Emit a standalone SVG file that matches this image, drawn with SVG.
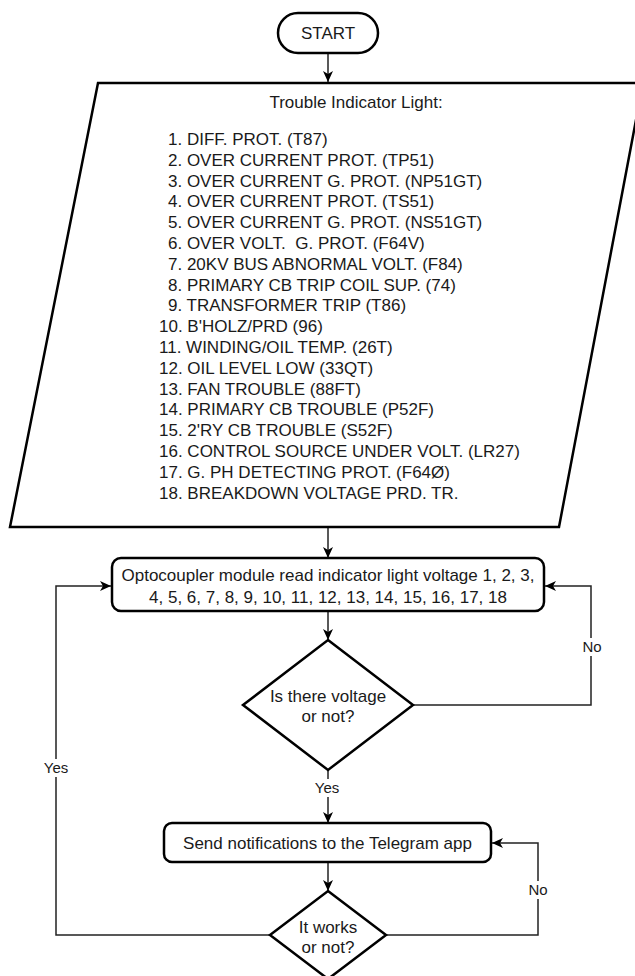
<svg xmlns="http://www.w3.org/2000/svg" width="635" height="976" viewBox="0 0 635 976">
<defs>
<marker id="arr" viewBox="0 0 12 10" refX="11" refY="5" markerWidth="12" markerHeight="10" markerUnits="userSpaceOnUse" orient="auto">
<path d="M0,0 L11,5 L0,10 L3,5 Z" fill="#000"/>
</marker>
<style>
.n{fill:#fff;stroke:#000;stroke-width:2.5;}
.t{font-family:"Liberation Sans",Arial,sans-serif;font-size:17px;fill:#1a1a1a;white-space:pre;}
.c{text-anchor:middle;}
.lbl{font-family:"Liberation Sans",Arial,sans-serif;font-size:15px;fill:#1a1a1a;text-anchor:middle;}
.e{fill:none;stroke:#222;stroke-width:1.5;}
</style>
</defs>
<rect width="635" height="976" fill="#fff"/>
<g id="connectors">
<path class="e" d="M328,53 V82" marker-end="url(#arr)"/>
<path class="e" d="M328,527 V558" marker-end="url(#arr)"/>
<path class="e" d="M328,611 V640" marker-end="url(#arr)"/>
<path class="e" d="M413,705 H591 V586 H545" marker-end="url(#arr)"/>
<path class="e" d="M328,770 V823" marker-end="url(#arr)"/>
<path class="e" d="M328,862 V891" marker-end="url(#arr)"/>
<path class="e" d="M386,935 H538 V843 H492" marker-end="url(#arr)"/>
<path class="e" d="M270,935 H56 V586 H111" marker-end="url(#arr)"/>
<rect x="580" y="638" width="24" height="18" fill="#fff"/>
<text class="lbl" x="592" y="652">No</text>
<rect x="313" y="779" width="29" height="18" fill="#fff"/>
<text class="lbl" x="327" y="793">Yes</text>
<rect x="42" y="759" width="29" height="18" fill="#fff"/>
<text class="lbl" x="56" y="773">Yes</text>
<rect x="526" y="881" width="24" height="18" fill="#fff"/>
<text class="lbl" x="538" y="895">No</text>
</g>
<g id="start">
<rect class="n" x="278" y="13" width="100" height="40" rx="20" ry="20"/>
<text class="t c" x="328" y="39">START</text>
</g>
<g id="indicator-list">
<polygon class="n" points="98,83 643,83 559,527 10,527"/>
<text class="t c" x="356" y="108">Trouble Indicator Light:</text>
<text class="t" x="168" y="145">1. DIFF. PROT. (T87)</text>
<text class="t" x="168" y="165.8">2. OVER CURRENT PROT. (TP51)</text>
<text class="t" x="168" y="186.6">3. OVER CURRENT G. PROT. (NP51GT)</text>
<text class="t" x="168" y="207.4">4. OVER CURRENT PROT. (TS51)</text>
<text class="t" x="168" y="228.2">5. OVER CURRENT G. PROT. (NS51GT)</text>
<text class="t" x="168" y="249">6. OVER VOLT.  G. PROT. (F64V)</text>
<text class="t" x="168" y="269.8">7. 20KV BUS ABNORMAL VOLT. (F84)</text>
<text class="t" x="168" y="290.6">8. PRIMARY CB TRIP COIL SUP. (74)</text>
<text class="t" x="168" y="311.4">9. TRANSFORMER TRIP (T86)</text>
<text class="t" x="159" y="332.2">10. B'HOLZ/PRD (96)</text>
<text class="t" x="159" y="353">11. WINDING/OIL TEMP. (26T)</text>
<text class="t" x="159" y="373.8">12. OIL LEVEL LOW (33QT)</text>
<text class="t" x="159" y="394.6">13. FAN TROUBLE (88FT)</text>
<text class="t" x="159" y="415.4">14. PRIMARY CB TROUBLE (P52F)</text>
<text class="t" x="159" y="436.2">15. 2'RY CB TROUBLE (S52F)</text>
<text class="t" x="159" y="457">16. CONTROL SOURCE UNDER VOLT. (LR27)</text>
<text class="t" x="159" y="477.8">17. G. PH DETECTING PROT. (F64Ø)</text>
<text class="t" x="159" y="498.6">18. BREAKDOWN VOLTAGE PRD. TR.</text>
</g>
<g id="read-voltage">
<rect class="n" x="112" y="558" width="432" height="53" rx="9" ry="9"/>
<text class="t c" x="328" y="581">Optocoupler module read indicator light voltage 1, 2, 3,</text>
<text class="t c" x="328" y="603">4, 5, 6, 7, 8, 9, 10, 11, 12, 13, 14, 15, 16, 17, 18</text>
</g>
<g id="voltage-decision">
<polygon class="n" points="328,640 413,705 328,770 243,705"/>
<text class="t c" x="328" y="702">Is there voltage</text>
<text class="t c" x="328" y="722">or not?</text>
</g>
<g id="send-notification">
<rect class="n" x="164" y="823" width="327" height="39" rx="8" ry="8"/>
<text class="t c" x="327.5" y="849">Send notifications to the Telegram app</text>
</g>
<g id="works-decision">
<polygon class="n" points="328,891 386,935 328,979 270,935"/>
<text class="t c" x="328" y="933">It works</text>
<text class="t c" x="328" y="953">or not?</text>
</g>
</svg>
